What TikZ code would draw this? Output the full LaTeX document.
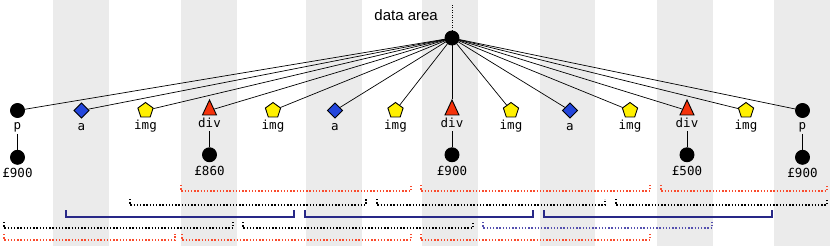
\documentclass[tikz,border=0pt]{standalone}
\usepackage{fontspec}
\setmainfont{Liberation Sans}
\newfontfamily\tagfont{DejaVu Sans Mono}
\usetikzlibrary{positioning,shapes.geometric}
\definecolor{stripegray}{RGB}{235,235,235}
\definecolor{anchorblue}{RGB}{35,70,220}
\definecolor{imgyellow}{RGB}{255,240,0}
\definecolor{divred}{RGB}{245,50,10}
\definecolor{winred}{RGB}{250,75,45}
\definecolor{winnavy}{RGB}{40,40,135}
\definecolor{winpurple}{RGB}{85,80,175}

\begin{document}
\begin{tikzpicture}[x=1pt,y=-1pt]
	\tikzstyle{ptag} = [circle, draw, fill=black, line width=0.9pt, minimum size=14pt, inner sep=0pt]
	\tikzstyle{atag} = [diamond, draw, fill=anchorblue, line width=0.9pt, minimum size=15.5pt, inner sep=0pt]
	\tikzstyle{imgtag} = [regular polygon, regular polygon sides=5, draw, fill=imgyellow, line width=0.9pt, minimum size=16pt, inner sep=0pt]
	\tikzstyle{divtag} = [isosceles triangle, isosceles triangle apex angle=50, shape border rotate=90, draw, fill=divred, line width=0.9pt, minimum height=15pt, inner sep=0pt]
	\tikzstyle{tag} = [font=\tagfont\fontsize{12.5}{14}\selectfont, text height=9pt, text depth=3pt, inner sep=1pt]
	\tikzstyle{edge} = [line width=0.7pt]
	\tikzstyle{dotwin} = [line width=1.3pt, dash pattern=on 1.4pt off 1.8pt]
	
	\useasboundingbox (0,0) rectangle (830,246);
	
	% Grey column stripes
	\fill[stripegray] (53,0) rectangle (109,246);
	\fill[stripegray] (181,0) rectangle (237,246);
	\fill[stripegray] (306,0) rectangle (362,246);
	\fill[stripegray] (422,0) rectangle (478,246);
	\fill[stripegray] (540,0) rectangle (595,246);
	\fill[stripegray] (657,0) rectangle (713,246);
	\fill[stripegray] (774,0) rectangle (830,246);
	
	% Root of the data area
	\node[ptag] (root) at (452,38) {};
	\coordinate (top) at (452,5);
	\node[above left=9.7pt and 6.7pt of root, font=\fontsize{15}{18}\selectfont, inner sep=2pt] (area) {data area};
	\draw[line width=1pt, dash pattern=on 1pt off 1.5pt] (root) -- (top);
	
	% Child elements
	\node[ptag] (c1) at (17.5,110.5) {};
	\node[atag] (c2) at (81.5,110.5) {};
	\node[imgtag] (c3) at (145.5,110.5) {};
	\node[divtag] (c4) at (209.5,110.5) {};
	\node[imgtag] (c5) at (273,110.5) {};
	\node[atag] (c6) at (335,110.5) {};
	\node[imgtag] (c7) at (395.5,110.5) {};
	\node[divtag] (c8) at (452,110.5) {};
	\node[imgtag] (c9) at (511,110.5) {};
	\node[atag] (c10) at (570,110.5) {};
	\node[imgtag] (c11) at (630,110.5) {};
	\node[divtag] (c12) at (687,110.5) {};
	\node[imgtag] (c13) at (746,110.5) {};
	\node[ptag] (c14) at (802.5,110.5) {};
	
	% Tag names
	\node[tag, below=1.5pt of c1] (l1) {p};
	\node[tag, below=1.5pt of c2] (l2) {a};
	\node[tag, below=1.5pt of c3] (l3) {img};
	\node[tag, below=1.5pt of c4] (l4) {div};
	\node[tag, below=1.5pt of c5] (l5) {img};
	\node[tag, below=1.5pt of c6] (l6) {a};
	\node[tag, below=1.5pt of c7] (l7) {img};
	\node[tag, below=1.5pt of c8] (l8) {div};
	\node[tag, below=1.5pt of c9] (l9) {img};
	\node[tag, below=1.5pt of c10] (l10) {a};
	\node[tag, below=1.5pt of c11] (l11) {img};
	\node[tag, below=1.5pt of c12] (l12) {div};
	\node[tag, below=1.5pt of c13] (l13) {img};
	\node[tag, below=1.5pt of c14] (l14) {p};
	
	% Edges from the root
	\draw[edge] (root) -- (c1);
	\draw[edge] (root) -- (c2);
	\draw[edge] (root) -- (c3);
	\draw[edge] (root) -- (c4);
	\draw[edge] (root) -- (c5);
	\draw[edge] (root) -- (c6);
	\draw[edge] (root) -- (c7);
	\draw[edge] (root) -- (c8);
	\draw[edge] (root) -- (c9);
	\draw[edge] (root) -- (c10);
	\draw[edge] (root) -- (c11);
	\draw[edge] (root) -- (c12);
	\draw[edge] (root) -- (c13);
	\draw[edge] (root) -- (c14);
	
	% Text values
	\node[ptag, below=16pt of l1] (v1) {};
	\node[ptag, below=16pt of l4] (v4) {};
	\node[ptag, below=16pt of l8] (v8) {};
	\node[ptag, below=16pt of l12] (v12) {};
	\node[ptag, below=16pt of l14] (v14) {};
	\node[tag, below=3pt of v1] (p1) {£900};
	\node[tag, below=3pt of v4] (p4) {£860};
	\node[tag, below=3pt of v8] (p8) {£900};
	\node[tag, below=3pt of v12] (p12) {£500};
	\node[tag, below=3pt of v14] (p14) {£900};
	\draw[edge] (l1) -- (v1);
	\draw[edge] (l4) -- (v4);
	\draw[edge] (l8) -- (v8);
	\draw[edge] (l12) -- (v12);
	\draw[edge] (l14) -- (v14);
	
	% Windows
	\draw[dotwin, winred] (181,185) -- (181,191) -- (411,191) -- (411,185);
	\draw[dotwin, winred] (421,185) -- (421,191) -- (650,191) -- (650,185);
	\draw[dotwin, winred] (661,185) -- (661,191) -- (827,191) -- (827,185);
	\draw[dotwin] (130,199) -- (130,205) -- (366,205) -- (366,199);
	\draw[dotwin] (377,199) -- (377,205) -- (605,205) -- (605,199);
	\draw[dotwin] (616,199) -- (616,205) -- (827,205) -- (827,199);
	\draw[winnavy, line width=1.2pt] (66,210) -- (66,217) -- (294,217) -- (294,210);
	\draw[winnavy, line width=1.2pt] (305,210) -- (305,217) -- (533,217) -- (533,210);
	\draw[winnavy, line width=1.2pt] (544,210) -- (544,217) -- (772,217) -- (772,210);
	\draw[dotwin] (4,222) -- (4,228) -- (233,228) -- (233,222);
	\draw[dotwin] (243,222) -- (243,228) -- (473,228) -- (473,222);
	\draw[dotwin, winpurple] (483,222) -- (483,228) -- (712,228) -- (712,222);
	\draw[dotwin, winred] (4,234) -- (4,240) -- (175,240) -- (175,234);
	\draw[dotwin, winred] (182,234) -- (182,240) -- (411,240) -- (411,234);
	\draw[dotwin, winred] (421,234) -- (421,240) -- (650,240) -- (650,234);
	
\end{tikzpicture}
\end{document}
